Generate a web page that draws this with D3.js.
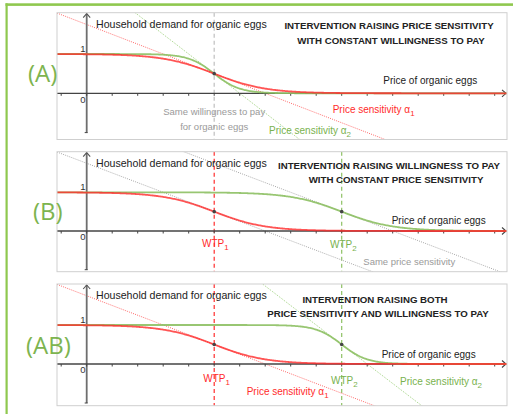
<!DOCTYPE html>
<html>
<head>
<meta charset="utf-8">
<script src="https://cdn.jsdelivr.net/npm/d3@7"></script>
<style>
  body { margin: 0; background: #fff; }
  svg { display: block; }
  text { font-family: "Liberation Sans", Arial, sans-serif; }
</style>
</head>
<body>
<svg id="chart" width="513" height="414"></svg>
<script>
// ---- model parameters for each scenario ----
const panelNames = ["(A)", "(B)", "(AB)"];
const titleLines = [
  ["INTERVENTION RAISING PRICE SENSITIVITY", "WITH CONSTANT WILLINGNESS TO PAY"],
  ["INTERVENTION RAISING WILLINGNESS TO PAY", "WITH CONSTANT PRICE SENSITIVITY"],
  ["INTERVENTION RAISING BOTH", "PRICE SENSITIVITY AND WILLINGNESS TO PAY"]
];
// price sensitivity (alpha) and willingness to pay, before (1) and after (2)
const alphaBefore = [1, 1, 1];
const alphaAfter  = [2, 1, 2];
const wtpBefore   = [5, 5, 5];
const wtpAfter    = [5, 10, 10];
const yTickLabels = ["0", "1"];
const xTickValues = d3.range(-1, 17);
const axisLabelY = "Household demand for organic eggs";
const axisLabelX = "Price of organic eggs";

// ---- colours ----
const RED = "#ff2b2b", GREEN = "#8dc063", GREY_TXT = "#9a9a9a", LABEL_GREEN = "#7db44f", TXT_GREEN = "#79b24e";

// ---- frame of each panel (pixels) ----
const frames = [
  { top: 12.7, bottom: 139.5, y0: 93.3, y1: 54.0 },
  { top: 151.7, bottom: 271.7, y0: 231.0, y1: 192.3 },
  { top: 284.0, bottom: 405.7, y0: 364.0, y1: 325.0 }
];
const LEFT = 57, RIGHT = 507;

const svg = d3.select("#chart");

// outer green frame (top and left edges)
svg.append("rect").attr("x", 5.5).attr("y", 3.3).attr("width", 513).attr("height", 2.6).attr("fill", "#8fc84f");
svg.append("rect").attr("x", 5.5).attr("y", 3.3).attr("width", 2.2).attr("height", 414).attr("fill", "#8fc84f");

const x = d3.scaleLinear().domain([0, 16]).range([86.7, 86.7 + 16 * 25.5]);
const xs = d3.range(x.invert(LEFT), x.invert(RIGHT) + 0.01, 0.04);
const demand = (a, w) => p => 1 / (1 + Math.exp(a * (p - w)));

const defs = svg.append("defs");

frames.forEach((f, i) => {
  const y = d3.scaleLinear().domain([0, 1]).range([f.y0, f.y1]);
  const g = svg.append("g");
  const clipId = "clip" + i;
  defs.append("clipPath").attr("id", clipId)
    .append("rect").attr("x", LEFT).attr("y", f.top).attr("width", RIGHT - LEFT).attr("height", f.bottom - f.top);
  const plot = g.append("g").attr("clip-path", `url(#${clipId})`);

  const a1 = alphaBefore[i], a2 = alphaAfter[i], w1 = wtpBefore[i], w2 = wtpAfter[i];
  const sameWtp = w1 === w2;
  const sameAlpha = a1 === a2;

  // vertical dashed guides at the willingness to pay
  if (sameWtp) {
    plot.append("line").attr("x1", x(w1)).attr("x2", x(w1)).attr("y1", f.top).attr("y2", f.bottom)
      .attr("stroke", "#c4c4c4").attr("stroke-width", 1.3).attr("stroke-dasharray", "4,3");
  } else {
    [[w1, RED], [w2, GREEN]].forEach(([w, c]) => {
      plot.append("line").attr("x1", x(w)).attr("x2", x(w)).attr("y1", f.top).attr("y2", f.bottom)
        .attr("stroke", c).attr("stroke-width", 1.2).attr("stroke-dasharray", "4,3");
    });
  }

  // tangent lines at the half-demand point (slope -alpha/4)
  const tangent = (a, w, c) => {
    const t = p => 0.5 - a / 4 * (p - w);
    plot.append("line")
      .attr("x1", LEFT).attr("y1", y(t(x.invert(LEFT))))
      .attr("x2", RIGHT).attr("y2", y(t(x.invert(RIGHT))))
      .attr("stroke", c).attr("stroke-width", 1).attr("stroke-dasharray", "1,1.2");
  };
  if (sameAlpha) {
    tangent(a1, w1, "#a8a8a8");
    tangent(a2, w2, "#a8a8a8");
  } else {
    tangent(a1, w1, "#ff6a6a");
    tangent(a2, w2, "#9fd07f");
  }

  // axes
  plot.append("line").attr("x1", x(0)).attr("x2", x(0)).attr("y1", f.top + 1).attr("y2", y(-1))
    .attr("stroke", "#6e6e6e").attr("stroke-width", 1.8);
  plot.append("line").attr("x1", LEFT).attr("x2", RIGHT - 1).attr("y1", f.y0).attr("y2", f.y0)
    .attr("stroke", "#444").attr("stroke-width", 1.3);
  plot.selectAll(".tick").data(xTickValues).enter().append("line")
    .attr("x1", d => x(d)).attr("x2", d => x(d)).attr("y1", f.y0).attr("y2", f.y0 + 2.5)
    .attr("stroke", "#444").attr("stroke-width", 1);
  plot.append("line").attr("x1", x(0) - 2).attr("x2", x(0) + 1).attr("y1", y(-1)).attr("y2", y(-1))
    .attr("stroke", "#444").attr("stroke-width", 1);
  // arrow heads
  plot.append("path").attr("d", `M${RIGHT - 5},${f.y0 - 3.5}L${RIGHT - 1},${f.y0}L${RIGHT - 5},${f.y0 + 3.5}`)
    .attr("fill", "none").attr("stroke", "#444").attr("stroke-width", 1.1);
  plot.append("path").attr("d", `M${x(0) - 3.5},${f.top + 5}L${x(0)},${f.top + 1}L${x(0) + 3.5},${f.top + 5}`)
    .attr("fill", "none").attr("stroke", "#555").attr("stroke-width", 1.1);

  // demand curves
  const line = d3.line().x(d => x(d[0])).y(d => y(d[1]));
  plot.append("path").datum(xs.map(p => [p, demand(a2, w2)(p)])).attr("d", line)
    .attr("fill", "none").attr("stroke", GREEN).attr("stroke-width", 1.8).attr("stroke-opacity", 0.9);
  plot.append("path").datum(xs.map(p => [p, demand(a1, w1)(p)])).attr("d", line)
    .attr("fill", "none").attr("stroke", RED).attr("stroke-width", 1.8).attr("stroke-opacity", 0.8);

  // half-demand points
  const pts = sameWtp ? [w1] : [w1, w2];
  pts.forEach(w => {
    plot.append("circle").attr("cx", x(w)).attr("cy", y(0.5)).attr("r", 1.8).attr("fill", "#444");
  });

  // panel border
  g.append("rect").attr("x", LEFT).attr("y", f.top).attr("width", RIGHT - LEFT).attr("height", f.bottom - f.top)
    .attr("fill", "none").attr("stroke", "#cfcfcf").attr("stroke-width", 1);
});

// ---- text ----
const txt = (px, py, s, opts = {}) => {
  const t = svg.append("text").attr("x", px).attr("y", py)
    .attr("font-size", opts.size || 10)
    .attr("fill", opts.color || "#222")
    .attr("text-anchor", opts.anchor || "start");
  if (opts.weight) t.attr("font-weight", opts.weight);
  if (opts.family) t.style("font-family", opts.family);
  t.append("tspan").text(s);
  if (opts.sub) t.append("tspan").attr("dy", 3).attr("font-size", (opts.size || 10) * 0.8).text(opts.sub);
  return t;
};

const titleCenters = [[389, 391], [389, 396], [375, 378]];
const titleBase = [[29.2, 44.2], [168.5, 182.8], [302.5, 316.8]];
const nameX = [28, 33, 26];
const nameBase = [81.7, 220, 354.3];
const priceLabel = [[383.3, 84.2], [391.7, 223.5], [381.7, 357.5]];

frames.forEach((f, i) => {
  txt(96, f.top + 15.3, axisLabelY, { size: 10.6 });
  titleLines[i].forEach((s, k) => txt(titleCenters[i][k], titleBase[i][k], s, { size: 9.7, weight: "bold", anchor: "middle" }));
  txt(priceLabel[i][0], priceLabel[i][1], axisLabelX, { size: 10 });
  txt(nameX[i], nameBase[i], panelNames[i], { size: 24, color: LABEL_GREEN, family: "'Open Sans', sans-serif" });
  txt(83, f.y1 - 2.5, yTickLabels[1], { size: 9.5, anchor: "middle", color: "#333" });
  txt(83, f.y0 + 9.2, yTickLabels[0], { size: 9.5, anchor: "middle", color: "#333" });
});

// panel A annotations
txt(x(wtpBefore[0]), 115.2, "Same willingness to pay", { size: 9.5, color: GREY_TXT, anchor: "middle" });
txt(x(wtpBefore[0]), 129.5, "for organic eggs", { size: 9.5, color: GREY_TXT, anchor: "middle" });
txt(332.7, 112.5, "Price sensitivity \u03b1", { size: 10, color: RED, sub: "1" });
txt(269, 133.5, "Price sensitivity \u03b1", { size: 10, color: TXT_GREEN, sub: "2" });

// panel B annotations
txt(202, 246.8, "WTP", { size: 10, color: RED, sub: "1" });
txt(330, 247.5, "WTP", { size: 10, color: TXT_GREEN, sub: "2" });
txt(363.3, 265.2, "Same price sensitivity", { size: 9.5, color: GREY_TXT });

// panel AB annotations
txt(203.3, 381.8, "WTP", { size: 10, color: RED, sub: "1" });
txt(331, 383.5, "WTP", { size: 10, color: TXT_GREEN, sub: "2" });
txt(400, 384.5, "Price sensitivity \u03b1", { size: 10, color: TXT_GREEN, sub: "2" });
txt(246.7, 395.2, "Price sensitivity \u03b1", { size: 10, color: RED, sub: "1" });
</script>
</body>
</html>
